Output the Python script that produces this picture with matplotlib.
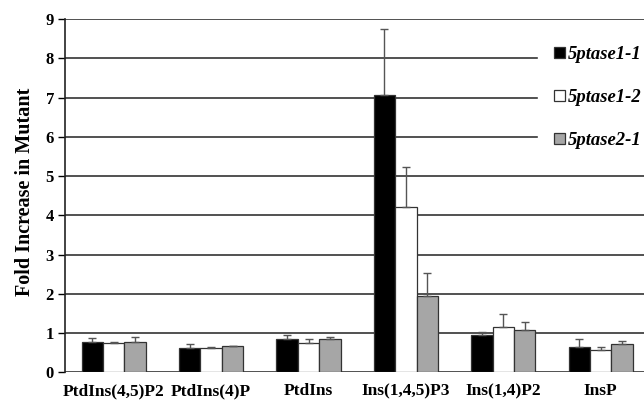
import matplotlib
matplotlib.use('Agg')
import matplotlib.pyplot as plt
import numpy as np

categories = ['PtdIns(4,5)P2', 'PtdIns(4)P', 'PtdIns', 'Ins(1,4,5)P3', 'Ins(1,4)P2', 'InsP']
series = ['5ptase1-1', '5ptase1-2', '5ptase2-1']

mean_1_1 = [0.78, 0.63, 0.84, 7.06, 0.95, 0.65]
err_1_1 = [0.87, 0.71, 0.94, 8.75, 1.03, 0.84]   # top of error bar
mean_1_2 = [0.74, 0.61, 0.75, 4.21, 1.16, 0.57]
err_1_2 = [0.76, 0.64, 0.84, 5.23, 1.48, 0.64]
mean_2_1 = [0.78, 0.68, 0.84, 1.94, 1.09, 0.72]
err_2_1 = [0.90, 0.68, 0.90, 2.53, 1.28, 0.80]

colors = ['black', 'white', '#a6a6a6']

plt.rcParams['font.family'] = ['Liberation Serif', 'DejaVu Serif']
plt.rcParams['font.weight'] = 'bold'

fig = plt.figure(figsize=(6.44, 4.01), dpi=100)
ax = fig.add_axes([65/644, 28.7/401, 579/644, 353.3/401])

x = np.arange(len(categories))
w = 0.22
means = [mean_1_1, mean_1_2, mean_2_1]
tops = [err_1_1, err_1_2, err_2_1]

ax.set_axisbelow(True)
ax.yaxis.grid(True, color='#222222', linewidth=1.1)
for i in range(3):
    m = np.array(means[i])
    up = np.array(tops[i]) - m
    ax.bar(x + (i - 1) * w, m, w, color=colors[i], edgecolor='#333333', linewidth=0.9,
           label=series[i], zorder=3)
    ax.errorbar(x + (i - 1) * w, m, yerr=[np.zeros_like(m), up], fmt='none',
                ecolor='#555555', elinewidth=1.0, capsize=3, capthick=1.0, zorder=4)

ax.set_ylim(0, 9)
ax.set_xlim(-0.5, -0.5 + 579/97.4)
ax.set_yticks(range(10))
ax.set_xticks(x)
ax.set_xticklabels(categories, fontsize=12.5, fontweight='bold')
ax.tick_params(axis='x', length=0, pad=8)
ax.tick_params(axis='y', labelsize=12, length=5, width=1, direction='out', pad=3)
for s in ['top', 'right', 'bottom']:
    ax.spines[s].set_visible(False)
ax.spines['left'].set_linewidth(1.2)
ax.spines['left'].set_color('#222222')
ax.set_ylabel('Fold Increase in Mutant', fontsize=14.5, fontweight='bold')
ax.yaxis.set_label_coords(-0.051, 0.51)

leg = ax.legend(loc='upper right', bbox_to_anchor=(658/644, 1 - 29/401), bbox_transform=fig.transFigure,
                frameon=True, fancybox=False, framealpha=1, edgecolor='white',
                handlelength=0.55, handleheight=0.55, handletextpad=0.15, labelspacing=1.4,
                borderpad=0.9, borderaxespad=0,
                prop={'family': 'Liberation Serif', 'style': 'italic',
                      'weight': 'bold', 'size': 13.4})
for h in leg.legend_handles:
    h.set_edgecolor('#333333')

fig.savefig('out.png', dpi=100)
